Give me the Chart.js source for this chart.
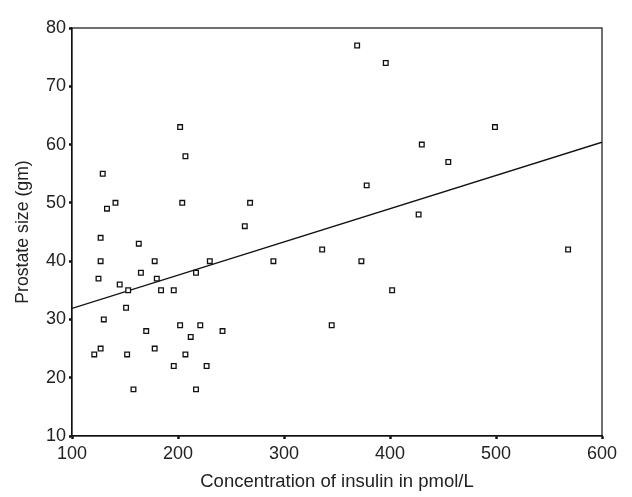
<!DOCTYPE html>
<html>
<head>
<meta charset="utf-8">
<script src="https://cdn.jsdelivr.net/npm/chart.js@4"></script>
<style>
  html, body { margin: 0; padding: 0; background: #fff; }
  #wrap { width: 632px; height: 497px; }
</style>
</head>
<body>
<div id="wrap"><canvas id="chart" width="632" height="497"></canvas></div>
<script>
// insulin (pmol/L) vs prostate size (gm)
const insulin = [202, 207, 129, 133, 141, 204, 268, 263, 127, 163,
                 127, 178, 230, 290, 165, 217, 125, 180, 145, 153,
                 184, 196, 151, 130, 170, 202, 221, 242, 212, 127,
                 178, 121, 152, 207, 196, 227, 158, 217, 369, 396,
                 499, 430, 455, 378, 427, 336, 568, 373, 402, 345];
const prostate = [63, 58, 55, 49, 50, 50, 50, 46, 44, 43,
                  40, 40, 40, 40, 38, 38, 37, 37, 36, 35,
                  35, 35, 32, 30, 28, 29, 29, 28, 27, 25,
                  25, 24, 24, 24, 22, 22, 18, 18, 77, 74,
                  63, 60, 57, 53, 48, 42, 42, 40, 35, 29];
// fitted line end points
const fitX = [100, 600];
const fitY = [31.9, 60.4];
const xTicks = [100, 200, 300, 400, 500, 600];
const yTicks = [10, 20, 30, 40, 50, 60, 70, 80];

const points = insulin.map((x, i) => ({ x: x, y: prostate[i] }));
const fitLine = fitX.map((x, i) => ({ x: x, y: fitY[i] }));

const FONT = "'Liberation Sans', Arial, sans-serif";

// box around the plot area (top and right sides)
const frame = {
    id: 'frame',
    afterDatasetsDraw(chart) {
        const a = chart.chartArea;
        const ctx = chart.ctx;
        ctx.save();
        ctx.strokeStyle = '#111';
        ctx.lineWidth = 1.2;
        ctx.strokeRect(a.left, a.top, a.right - a.left, a.bottom - a.top);
        ctx.restore();
    }
};

new Chart(document.getElementById('chart'), {
    type: 'scatter',
    data: {
        datasets: [
            {
                data: points,
                pointStyle: 'rect',
                pointRadius: 3.3,
                borderColor: '#111',
                backgroundColor: '#fff',
                borderWidth: 1.3
            },
            {
                type: 'line',
                data: fitLine,
                showLine: true,
                pointRadius: 0,
                borderColor: '#111',
                borderWidth: 1.3,
                fill: false
            }
        ]
    },
    options: {
        responsive: false,
        animation: false,
        devicePixelRatio: 1,
        layout: { padding: { left: 0, top: 28, right: 30, bottom: 0 } },
        plugins: {
            legend: { display: false },
            tooltip: { enabled: false }
        },
        scales: {
            x: {
                type: 'linear',
                min: 100, max: 600,
                afterFit: s => { s.height = 61; },
                afterBuildTicks: s => { s.ticks = xTicks.map(v => ({ value: v })); },
                grid: { drawOnChartArea: false, drawTicks: true, tickLength: 3, tickWidth: 2.5, color: '#111' },
                border: { display: true, color: '#111', width: 1.2 },
                ticks: { color: '#222', padding: 4, font: { family: FONT, size: 18 } },
                title: { display: true, text: 'Concentration of insulin in pmol/L', color: '#222',
                         padding: { top: 4, bottom: 4 }, font: { family: FONT, size: 18.5 } }
            },
            y: {
                type: 'linear',
                min: 10, max: 80,
                afterFit: s => { s.width = 72; },
                afterBuildTicks: s => { s.ticks = yTicks.map(v => ({ value: v })); },
                grid: { drawOnChartArea: false, drawTicks: true, tickLength: 3, tickWidth: 2.5, color: '#111' },
                border: { display: true, color: '#111', width: 1.2 },
                ticks: { color: '#222', padding: 3, font: { family: FONT, size: 18 } },
                title: { display: true, text: 'Prostate size (gm)', color: '#222',
                         padding: { top: 12, bottom: 4 }, font: { family: FONT, size: 17.7 } }
            }
        }
    },
    plugins: [frame]
});
</script>
</body>
</html>
